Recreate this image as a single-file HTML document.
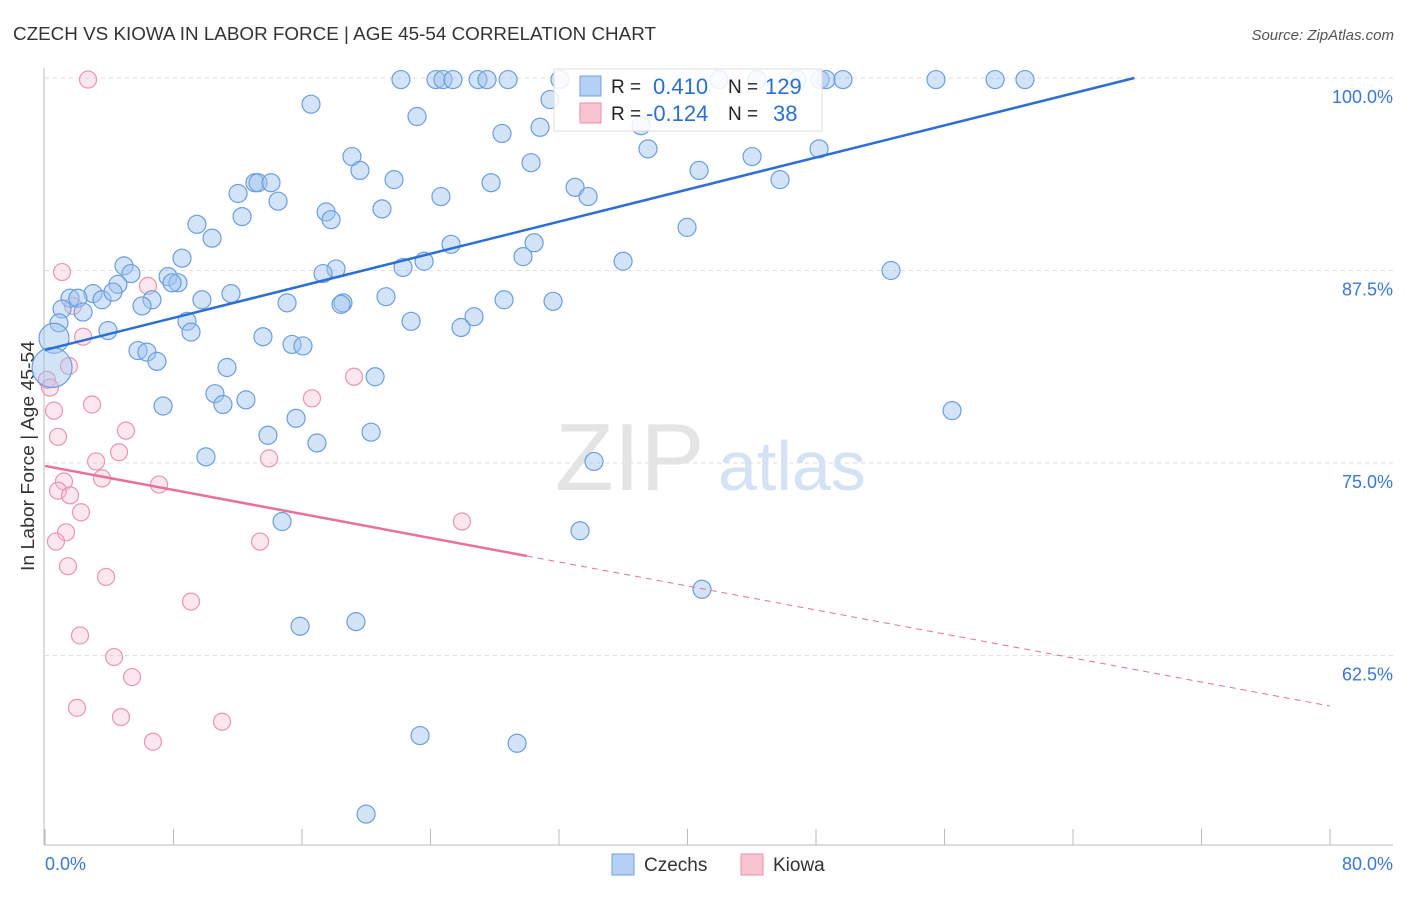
<!DOCTYPE html>
<html><head><meta charset="utf-8"><style>
body{margin:0;background:#fff;font-family:"Liberation Sans",sans-serif;}
svg text{font-family:"Liberation Sans",sans-serif;}
</style></head><body>
<svg id="chart" width="1406" height="892">
<text x="13" y="40" font-size="18" fill="#333" textLength="643" lengthAdjust="spacingAndGlyphs">CZECH VS KIOWA IN LABOR FORCE | AGE 45-54 CORRELATION CHART</text>
<text x="1394" y="40" font-size="15" fill="#555" font-style="italic" text-anchor="end">Source: ZipAtlas.com</text>
<text x="0" y="0" transform="translate(34,456) rotate(-90)" font-size="18" fill="#333" text-anchor="middle" textLength="230" lengthAdjust="spacingAndGlyphs">In Labor Force | Age 45-54</text>
<g id="grid"></g>
<text x="555" y="490" font-size="96" fill="#e4e4e4" font-family="Liberation Serif">ZIP</text>
<text x="718" y="490" font-size="70" fill="#d3e2f5">atlas</text>
<g id="axes"></g>
<g id="pinkPts"></g>
<g id="bluePts"></g>
<g id="lines"></g>
<g>
<rect x="554" y="69" width="268" height="62" fill="#fff" fill-opacity="0.85" stroke="#ddd"/>
<rect x="580" y="76" width="21" height="20" fill="#b4d0f4" stroke="#6f9fe0"/>
<rect x="580" y="103" width="21" height="20" fill="#f8c4d2" stroke="#ec8fab"/>
<text x="611" y="93" font-size="19" fill="#222">R =</text><text x="653" y="94" font-size="22" fill="#2a6fd6">0.410</text>
<text x="728" y="93" font-size="19" fill="#222">N =</text><text x="765" y="94" font-size="22" fill="#2a6fd6">129</text>
<text x="611" y="120" font-size="19" fill="#222">R =</text><text x="646" y="121" font-size="22" fill="#2a6fd6">-0.124</text>
<text x="728" y="120" font-size="19" fill="#222">N =</text><text x="773" y="121" font-size="22" fill="#2a6fd6">38</text>
</g>
<g>
<rect x="612" y="854" width="22" height="21" fill="#b4d0f4" stroke="#6f9fe0"/>
<text x="644" y="871" font-size="19" fill="#333">Czechs</text>
<rect x="741" y="854" width="22" height="21" fill="#f8c4d2" stroke="#ec8fab"/>
<text x="773" y="871" font-size="19" fill="#333">Kiowa</text>
</g>
</svg>
<script>
const yTicks=[100,87.5,75,62.5];
const yTickLabels=["100.0%","87.5%","75.0%","62.5%"];
const xTicks=[0,8,16,24,32,40,48,56,64,72,80];
const xTickLabels=["0.0%","80.0%"];
const blueX=[22.16,24.34,24.78,25.40,26.96,27.52,28.83,32.06,41.96,44.33,46.82,48.25,48.63,49.68,55.47,59.15,61.01,16.56,23.16,31.44,28.45,30.82,30.26,37.54,44.02,40.72,45.76,48.19,37.11,19.11,19.61,21.73,27.77,33.00,33.81,24.65,20.98,17.50,17.81,13.07,13.26,14.07,12.02,14.51,12.27,9.46,10.40,8.53,25.28,30.45,29.76,22.29,23.60,18.12,17.31,35.99,39.97,52.67,4.92,5.35,7.66,8.28,7.91,4.54,2.99,3.55,1.56,2.05,4.23,6.66,6.04,9.77,11.58,15.07,18.55,18.43,21.23,28.58,31.63,1.06,2.37,0.87,3.92,8.84,9.09,13.57,15.38,16.06,22.79,26.71,25.90,5.79,6.35,6.97,11.33,20.55,7.35,10.58,11.08,12.51,15.63,13.88,16.93,20.30,10.02,34.18,56.47,14.76,33.31,40.90,15.88,19.36,23.35,29.39,19.99];
const blueY=[99.9,99.9,99.9,99.9,99.9,99.9,99.9,99.9,99.9,99.9,99.9,99.9,99.9,99.9,99.9,99.9,99.9,98.3,97.5,98.6,96.4,96.8,94.5,95.4,94.9,94.0,93.4,95.4,96.9,94.9,94.0,93.4,93.2,92.9,92.3,92.3,91.5,91.3,90.8,93.2,93.2,93.2,92.5,92.0,91.0,90.5,89.6,88.3,89.2,89.3,88.4,87.7,88.1,87.6,87.3,88.1,90.3,87.5,87.8,87.3,87.1,86.7,86.7,86.6,86.0,85.6,85.7,85.7,86.1,85.6,85.2,85.6,86.0,85.4,85.4,85.3,85.8,85.6,85.5,85.0,84.8,84.1,83.6,84.2,83.5,83.2,82.7,82.6,84.2,84.5,83.8,82.3,82.2,81.6,81.2,80.6,78.7,79.5,78.8,79.1,77.9,76.8,76.3,77.0,75.4,75.1,78.4,71.2,70.6,66.8,64.4,64.7,57.3,56.8,52.2];
const blueBigX=[0.56,0.44];
const blueBigY=[83.1,81.2];
const pinkX=[2.68,1.06,1.74,2.37,6.41,1.49,0.12,0.31,0.56,2.93,0.81,5.04,4.61,3.18,3.55,1.18,0.81,1.56,2.24,1.31,0.68,7.10,19.24,16.62,13.95,25.96,13.39,1.43,3.80,9.09,2.18,4.30,5.42,1.99,4.73,11.02,6.72,33.75];
const pinkY=[99.9,87.4,85.2,83.2,86.5,81.3,80.4,79.9,78.4,78.8,76.7,77.1,75.7,75.1,74.0,73.8,73.2,72.9,71.8,70.5,69.9,73.6,80.6,79.2,75.3,71.2,69.9,68.3,67.6,66.0,63.8,62.4,61.1,59.1,58.5,58.2,56.9,97.7];
const blueTrend=[82.34,0.2604];
const pinkTrend=[74.81,-0.1949];
const NS="http://www.w3.org/2000/svg";
const sx=v=>45+v/80*1285;
const sy=v=>78+(100-v)/12.5*192.5;
function mk(tag,attrs,parent){const e=document.createElementNS(NS,tag);for(const k in attrs)e.setAttribute(k,attrs[k]);parent.appendChild(e);return e;}
const grid=document.getElementById('grid'),axes=document.getElementById('axes');
yTicks.forEach((t,i)=>{
 const l=mk('line',{x1:45,x2:1393,y1:sy(t),y2:sy(t),stroke:'#ddd','stroke-dasharray':'4,4'},grid);
 
 
 const tx=mk('text',{x:1393,y:sy(t)+25,'font-size':18,fill:'#3a78d8','text-anchor':'end'},grid);
 tx.textContent=yTickLabels[i];
 
 
});
mk('line',{x1:44,x2:44,y1:68,y2:845,stroke:'#bbb'},axes);
mk('line',{x1:44,x2:1393,y1:845,y2:845,stroke:'#bbb'},axes);
xTicks.forEach(t=>{
 const l=mk('line',{x1:sx(t),x2:sx(t),y1:829,y2:845,stroke:'#bbb'},axes);
 
 
});
const xl0=mk('text',{x:45,y:870,'font-size':18,fill:'#3a78d8'},axes);xl0.textContent=xTickLabels[0];


const xl1=mk('text',{x:1393,y:870,'font-size':18,fill:'#3a78d8','text-anchor':'end'},axes);xl1.textContent=xTickLabels[1];


const pg=document.getElementById('pinkPts');
pinkX.forEach((x,i)=>{
 const c=mk('circle',{cx:sx(x),cy:sy(pinkY[i]),r:8.5,fill:'rgba(248,185,205,0.35)',stroke:'#ec95b0','stroke-width':1.2},pg);
 
 
});
const bg=document.getElementById('bluePts');
blueX.forEach((x,i)=>{
 const c=mk('circle',{cx:sx(x),cy:sy(blueY[i]),r:9,fill:'rgba(160,196,240,0.45)',stroke:'#6b9ee2','stroke-width':1.2},bg);
 
 
});
blueBigX.forEach((x,i)=>{
 const c=mk('circle',{cx:sx(x),cy:sy(blueBigY[i]),r:i?20:15,fill:'rgba(160,196,240,0.45)',stroke:'#6b9ee2','stroke-width':1.2},bg);
 
 
});
const lg=document.getElementById('lines');
const bEnd=(100-blueTrend[0])/blueTrend[1];
const bl=mk('line',{x1:sx(0),y1:sy(blueTrend[0]),x2:sx(bEnd),y2:sy(100),stroke:'#2a6fd6','stroke-width':2.5},lg);


const pl=mk('line',{x1:sx(0),y1:sy(pinkTrend[0]),x2:sx(30),y2:sy(pinkTrend[0]+pinkTrend[1]*30),stroke:'#e8709a','stroke-width':2.5},lg);


const pd=mk('line',{x1:sx(30),y1:sy(pinkTrend[0]+pinkTrend[1]*30),x2:sx(80),y2:sy(pinkTrend[0]+pinkTrend[1]*80),stroke:'#e8709a','stroke-width':1,'stroke-dasharray':'6,5'},lg);


</script>
</body></html>
